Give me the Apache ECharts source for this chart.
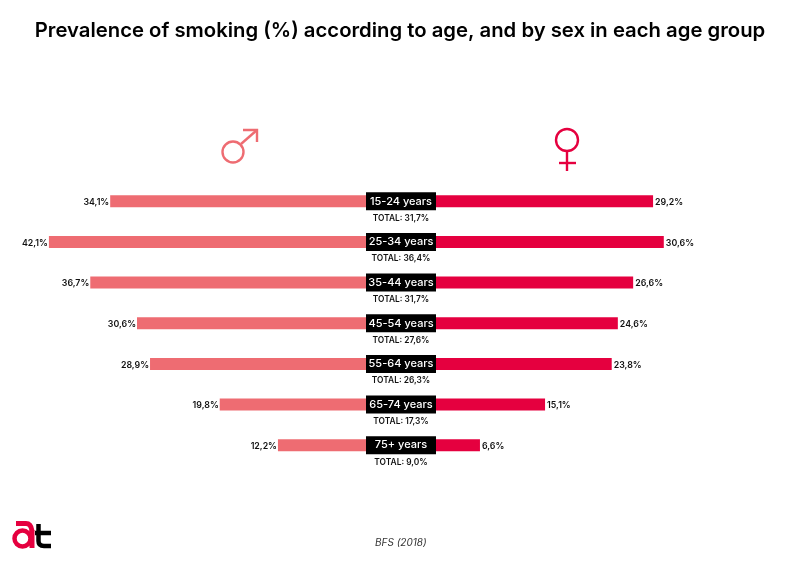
<!DOCTYPE html>
<html>
<head>
<meta charset="utf-8">
<style>
  html, body { margin: 0; padding: 0; background: #fff; }
  #main { width: 800px; height: 565px; }
</style>
<script src="https://cdn.jsdelivr.net/npm/echarts@6/dist/echarts.min.js"></script>
</head>
<body>
<div id="main"></div>
<script>
var ageGroups = ["15-24 years", "25-34 years", "35-44 years", "45-54 years", "55-64 years", "65-74 years", "75+ years"];
var maleValues = [34.1, 42.1, 36.7, 30.6, 28.9, 19.8, 12.2];
var femaleValues = [29.2, 30.6, 26.6, 24.6, 23.8, 15.1, 6.6];
var totalValues = [31.7, 36.4, 31.7, 27.6, 26.3, 17.3, 9.0];

var maleColor = "#ee6c72";
var femaleColor = "#e5003f";
var fontName = "Inter";

// 34,1%
function pct(v) {
  return v.toFixed(1).replace(".", ",") + "%";
}
var totalLabels = totalValues.map(function (v) {
  return "TOTAL: " + pct(v);
});

var chart = echarts.init(document.getElementById("main"));
chart.setOption({
  animation: false,
  backgroundColor: "#fff",
  textStyle: { fontFamily: fontName },
  title: {
    text: "Prevalence of smoking (%) according to age, and by sex in each age group",
    left: "center",
    top: 16,
    textStyle: { fontFamily: fontName, fontSize: 20.3, fontWeight: 600, color: "#000" },
  },
  grid: [
    { left: 26.7, width: 344.7, top: 181, height: 284.5 },
    { left: 429.4, width: 344.7, top: 181, height: 284.5 },
  ],
  xAxis: [
    { gridIndex: 0, type: "value", min: 0, max: 45, inverse: true, show: false },
    { gridIndex: 1, type: "value", min: 0, max: 45, show: false },
  ],
  yAxis: [
    {
      gridIndex: 0,
      type: "category",
      inverse: true,
      position: "right",
      data: totalLabels,
      axisLine: { show: false },
      axisTick: { show: false },
      axisLabel: {
        interval: 0,
        align: "center",
        verticalAlign: "top",
        margin: 29.6,
        padding: [13, 0, 0, 0],
        fontSize: 8.4,
        fontWeight: 600,
        color: "#111",
      },
    },
    {
      gridIndex: 1,
      type: "category",
      inverse: true,
      data: ageGroups,
      z: 5,
      axisLine: { show: false },
      axisTick: { show: false },
      axisLabel: {
        interval: 0,
        align: "center",
        verticalAlign: "middle",
        margin: 28.4,
        width: 70,
        height: 18,
        lineHeight: 18,
        backgroundColor: "#000",
        fontSize: 11,
        fontWeight: 500,
        color: "#fff",
      },
    },
  ],
  series: [
    {
      name: "Men",
      type: "bar",
      xAxisIndex: 0,
      yAxisIndex: 0,
      data: maleValues,
      barWidth: 12,
      itemStyle: { color: maleColor },
      label: {
        show: true,
        position: "left",
        distance: 1,
        offset: [0, 1],
        fontSize: 8.8,
        fontWeight: 600,
        color: "#111",
        formatter: function (p) { return pct(p.value); },
      },
    },
    {
      name: "Women",
      type: "bar",
      xAxisIndex: 1,
      yAxisIndex: 1,
      data: femaleValues,
      barWidth: 12,
      itemStyle: { color: femaleColor },
      label: {
        show: true,
        position: "right",
        distance: 2,
        offset: [0, 1],
        fontSize: 8.8,
        fontWeight: 600,
        color: "#111",
        formatter: function (p) { return pct(p.value); },
      },
    },
  ],
  graphic: [
    // male sign
    { type: "circle", shape: { cx: 233, cy: 152, r: 10.5 }, style: { fill: "none", stroke: maleColor, lineWidth: 2.4 } },
    { type: "polyline", shape: { points: [[241, 144], [257, 130]] }, style: { stroke: maleColor, lineWidth: 2.4, fill: "none" } },
    { type: "polyline", shape: { points: [[243, 130], [257, 130], [257, 142]] }, style: { stroke: maleColor, lineWidth: 2.4, fill: "none" } },
    // female sign
    { type: "circle", shape: { cx: 567, cy: 140, r: 11 }, style: { fill: "none", stroke: femaleColor, lineWidth: 2.4 } },
    { type: "line", shape: { x1: 567, y1: 151, x2: 567, y2: 171 }, style: { stroke: femaleColor, lineWidth: 2.4 } },
    { type: "line", shape: { x1: 559, y1: 163, x2: 576, y2: 163 }, style: { stroke: femaleColor, lineWidth: 2.4 } },
    // logo: a
    { type: "circle", shape: { cx: 22.5, cy: 538.5, r: 8 }, style: { fill: "none", stroke: femaleColor, lineWidth: 4.5 } },
    { type: "line", shape: { x1: 16, y1: 523.5, x2: 26, y2: 523.5 }, style: { stroke: femaleColor, lineWidth: 5 } },
    { type: "bezierCurve", shape: { x1: 26, y1: 523.5, cpx1: 31, cpy1: 523.5, x2: 32, y2: 531 }, style: { fill: "none", stroke: femaleColor, lineWidth: 5 } },
    { type: "line", shape: { x1: 32, y1: 530, x2: 32, y2: 548 }, style: { stroke: femaleColor, lineWidth: 5 } },
    // logo: t
    { type: "line", shape: { x1: 35, y1: 533, x2: 51, y2: 533 }, style: { stroke: "#000", lineWidth: 4.5 } },
    { type: "line", shape: { x1: 38.5, y1: 524, x2: 38.5, y2: 541 }, style: { stroke: "#000", lineWidth: 4.5 } },
    { type: "bezierCurve", shape: { x1: 38.5, y1: 541, cpx1: 38.5, cpy1: 546, x2: 44, y2: 546 }, style: { fill: "none", stroke: "#000", lineWidth: 4.5 } },
    { type: "line", shape: { x1: 44, y1: 546, x2: 51, y2: 546 }, style: { stroke: "#000", lineWidth: 4.5 } },
    // source
    {
      type: "text",
      left: 375,
      top: 538,
      style: { text: "BFS (2018)", fontFamily: fontName, fontSize: 10, fontStyle: "italic", fill: "#333" },
    },
  ],
});
</script>
</body>
</html>
